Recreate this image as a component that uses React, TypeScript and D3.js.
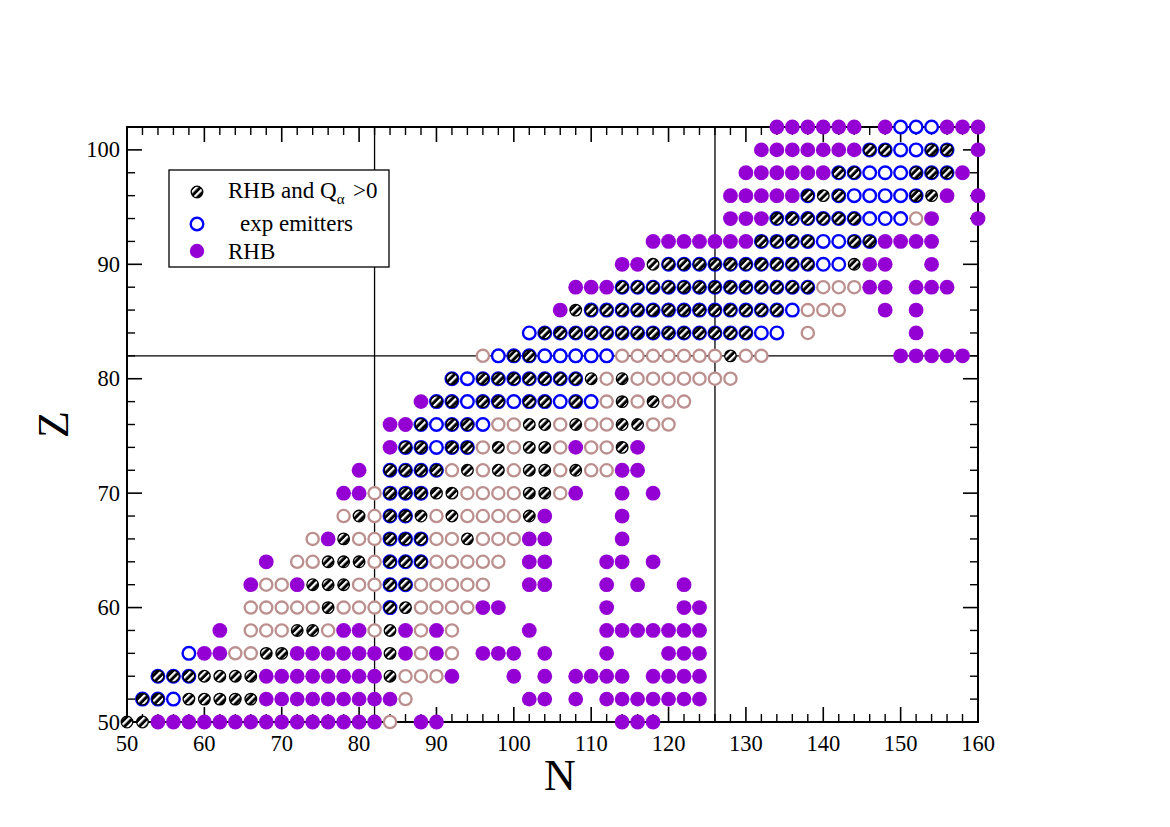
import React from 'react';
import * as d3 from 'd3';

type Row = [number, number[]];

// ---------- data (Z, list of N) ----------
// RHB (purple filled)
const rhbRows: Row[] = [
  [50, [54, 56, 58, 60, 62, 64, 66, 68, 70, 72, 74, 76, 78, 80, 82, 88, 90, 114, 116, 118]],
  [52, [68, 70, 72, 74, 76, 78, 80, 82, 84, 102, 104, 108, 112, 114, 116, 118, 120, 122, 124]],
  [54, [68, 70, 72, 74, 76, 78, 80, 82, 92, 100, 104, 108, 110, 112, 114, 118, 120, 122, 124]],
  [56, [60, 62, 72, 74, 76, 78, 80, 82, 86, 90, 96, 98, 100, 104, 112, 120, 122, 124]],
  [58, [62, 78, 80, 86, 90, 102, 112, 114, 116, 118, 120, 122, 124]],
  [60, [96, 98, 112, 122, 124]],
  [62, [66, 72, 102, 104, 112, 116, 122]],
  [64, [68, 102, 104, 112, 114, 118]],
  [66, [76, 102, 104, 114]],
  [68, [104, 114]],
  [70, [78, 80, 108, 114, 118]],
  [72, [80, 114, 116]],
  [74, [84, 108, 116]],
  [76, [84, 86]],
  [78, [88]],
  [82, [150, 152, 154, 156, 158]],
  [84, [152]],
  [86, [106, 148, 152]],
  [88, [108, 110, 112, 146, 148, 152, 154, 156]],
  [90, [114, 116, 146, 148, 154]],
  [92, [118, 120, 122, 124, 126, 128, 130, 148, 150, 152, 154]],
  [94, [128, 130, 132, 154, 160]],
  [96, [128, 130, 132, 134, 136, 156, 160]],
  [98, [130, 132, 134, 136, 138, 140, 158]],
  [100, [132, 134, 136, 138, 140, 142, 144, 160]],
  [102, [134, 136, 138, 140, 142, 144, 148, 156, 158, 160]],
];

// experimental alpha emitters (blue open circles)
const expRows: Row[] = [
  [52, [52, 54, 56]],
  [54, [54, 56, 58]],
  [56, [58]],
  [60, [84]],
  [62, [84, 86]],
  [64, [84, 86, 88]],
  [66, [84, 86, 88]],
  [68, [84, 86]],
  [70, [84, 86, 88]],
  [72, [84, 86, 88, 90]],
  [74, [86, 88, 90, 92, 94]],
  [76, [88, 90, 92, 94, 96]],
  [78, [90, 92, 94, 96, 98, 100, 102, 104, 106, 108, 110]],
  [80, [92, 94, 96, 98, 100, 102, 104, 106, 108]],
  [82, [98, 100, 102, 104, 106, 108, 110, 112]],
  [84, [102, 104, 106, 108, 110, 112, 114, 116, 118, 120, 122, 124, 126, 128, 130, 132, 134]],
  [86, [110, 112, 114, 116, 118, 120, 122, 124, 126, 128, 130, 132, 134, 136]],
  [88, [114, 116, 118, 120, 122, 124, 126, 128, 130, 132, 134, 136, 138]],
  [90, [120, 122, 124, 126, 128, 130, 132, 134, 136, 138, 140, 142]],
  [92, [132, 134, 136, 138, 140, 142, 144, 146]],
  [94, [134, 136, 138, 140, 142, 144, 146, 148, 150]],
  [96, [138, 142, 144, 146, 148, 150, 152]],
  [98, [142, 144, 146, 148, 150, 152, 154, 156]],
  [100, [146, 148, 150, 152, 154, 156]],
  [102, [150, 152, 154]],
];

// RHB and Q_alpha > 0 (hatched)
const qAlphaRows: Row[] = [
  [50, [50, 52]],
  [52, [52, 54, 58, 60, 62, 64, 66]],
  [54, [54, 56, 58, 60, 62, 64, 66, 84]],
  [56, [68, 70, 84]],
  [58, [72, 74, 84]],
  [60, [76, 84, 86]],
  [62, [74, 76, 78, 84, 86]],
  [64, [76, 78, 80, 84, 86, 88]],
  [66, [78, 84, 86, 88, 94]],
  [68, [80, 84, 86, 88, 92, 102]],
  [70, [84, 86, 88, 90, 92, 102, 104]],
  [72, [84, 86, 88, 90, 94, 98, 102, 104, 108]],
  [74, [86, 88, 92, 94, 98, 102, 104, 114]],
  [76, [88, 92, 94, 102, 104, 108, 114, 116]],
  [78, [90, 92, 96, 98, 102, 104, 108, 114, 118]],
  [80, [92, 96, 98, 100, 102, 104, 106, 108, 110, 114]],
  [82, [100, 102, 128]],
  [84, [104, 106, 108, 110, 112, 114, 116, 118, 120, 122, 124, 126, 128, 130]],
  [86, [108, 110, 112, 114, 116, 118, 120, 122, 124, 126, 128, 130, 132, 134]],
  [88, [114, 116, 118, 120, 122, 124, 126, 128, 130, 132, 134, 136, 138]],
  [90, [118, 120, 122, 124, 126, 128, 130, 132, 134, 136, 138, 144]],
  [92, [132, 134, 136, 138, 144, 146]],
  [94, [134, 136, 138, 140, 142, 144]],
  [96, [138, 140, 142, 152, 154]],
  [98, [142, 144, 152, 154, 156]],
  [100, [146, 148, 154, 156]],
];

// other calculated nuclei (rosy-brown open circles)
const otherRows: Row[] = [
  [50, [84]],
  [52, [86]],
  [54, [86, 88, 90]],
  [56, [64, 66, 88, 92]],
  [58, [66, 68, 70, 76, 82, 88, 92]],
  [60, [66, 68, 70, 72, 74, 78, 80, 82, 88, 90, 92, 94]],
  [62, [68, 70, 80, 82, 88, 90, 92, 94, 96]],
  [64, [72, 74, 82, 90, 92, 94, 96, 98]],
  [66, [74, 80, 82, 90, 92, 96, 98, 100]],
  [68, [78, 82, 90, 94, 96, 98, 100]],
  [70, [82, 94, 96, 98, 100, 106]],
  [72, [92, 96, 100, 106, 110, 112]],
  [74, [96, 100, 106, 110, 112]],
  [76, [98, 100, 106, 110, 112, 118, 120]],
  [78, [112, 116, 120, 122]],
  [80, [112, 116, 118, 120, 122, 124, 126, 128]],
  [82, [96, 114, 116, 118, 120, 122, 124, 126, 130, 132]],
  [84, [138]],
  [86, [138, 140, 142]],
  [88, [140, 142, 144]],
  [94, [152]],
];

const xMajor = [50, 60, 70, 80, 90, 100, 110, 120, 130, 140, 150, 160];
const yMajor = [50, 60, 70, 80, 90, 100];
const magicN = [82, 126];
const magicZ = [82];

const legendItems = [
  { kind: 'hatch', label: 'RHB and Q', sub: 'α', tail: '>0' },
  { kind: 'exp', label: 'exp emitters' },
  { kind: 'rhb', label: 'RHB' },
];

const flat = (rows: Row[]) => rows.flatMap(([z, ns]) => ns.map((n) => ({ n, z })));

export default function App() {
  const W = 1170;
  const H = 827;
  const L = 127, R = 978, T = 127, B = 722;
  const x = d3.scaleLinear().domain([50, 160]).range([L, R]);
  const y = d3.scaleLinear().domain([50, 102]).range([B, T]);
  const font = '"Liberation Serif", "Times New Roman", serif';
  const purple = '#9400d3';
  const blue = '#0000ff';
  const brown = '#bc8f8f';

  const xMinor = d3.range(50, 161, 2).filter((v) => !xMajor.includes(v));
  const yMinor = d3.range(50, 103, 2).filter((v) => !yMajor.includes(v));

  const hatch = (cx: number, cy: number, key: string) => (
    <circle key={key} cx={cx} cy={cy} r={5.8} fill="url(#hatchPat)" stroke="#000" strokeWidth={1.3} />
  );

  return (
    <svg width={W} height={H} style={{ position: 'absolute', left: 0, top: 0, background: '#fff' }}>
      <defs>
        <pattern id="hatchPat" width={5.2} height={5.2} patternUnits="userSpaceOnUse" patternTransform="rotate(45)">
          <rect width={5.2} height={5.2} fill="#000" />
          <rect width={2.2} height={5.2} fill="#fff" />
        </pattern>
      </defs>
      <rect x={0} y={0} width={W} height={H} fill="#fff" />

      {/* reference lines */}
      {magicN.map((n) => (
        <line key={'mn' + n} x1={x(n)} x2={x(n)} y1={T} y2={B} stroke="#000" strokeWidth={1.3} />
      ))}
      {magicZ.map((z) => (
        <line key={'mz' + z} x1={L} x2={R} y1={y(z)} y2={y(z)} stroke="#000" strokeWidth={1.3} />
      ))}

      {/* frame */}
      <rect x={L} y={T} width={R - L} height={B - T} fill="none" stroke="#000" strokeWidth={2} />

      {/* ticks */}
      {xMajor.map((v) => (
        <g key={'xM' + v}>
          <line x1={x(v)} x2={x(v)} y1={B} y2={B - 15} stroke="#000" strokeWidth={1.6} />
          <line x1={x(v)} x2={x(v)} y1={T} y2={T + 15} stroke="#000" strokeWidth={1.6} />
          <text x={x(v)} y={751} textAnchor="middle" fontFamily={font} fontSize={22.5}>{v}</text>
        </g>
      ))}
      {xMinor.map((v) => (
        <g key={'xm' + v}>
          <line x1={x(v)} x2={x(v)} y1={B} y2={B - 8} stroke="#000" strokeWidth={1.4} />
          <line x1={x(v)} x2={x(v)} y1={T} y2={T + 8} stroke="#000" strokeWidth={1.4} />
        </g>
      ))}
      {yMajor.map((v) => (
        <g key={'yM' + v}>
          <line x1={L} x2={L + 15} y1={y(v)} y2={y(v)} stroke="#000" strokeWidth={1.6} />
          <line x1={R} x2={R - 15} y1={y(v)} y2={y(v)} stroke="#000" strokeWidth={1.6} />
          <text x={120} y={y(v) + 7.5} textAnchor="end" fontFamily={font} fontSize={22.5}>{v}</text>
        </g>
      ))}
      {yMinor.map((v) => (
        <g key={'ym' + v}>
          <line x1={L} x2={L + 8} y1={y(v)} y2={y(v)} stroke="#000" strokeWidth={1.4} />
          <line x1={R} x2={R - 8} y1={y(v)} y2={y(v)} stroke="#000" strokeWidth={1.4} />
        </g>
      ))}

      {/* data layers */}
      {flat(otherRows).map((d, i) => (
        <circle key={'o' + i} cx={x(d.n)} cy={y(d.z)} r={6.1} fill="#fff" stroke={brown} strokeWidth={2.3} />
      ))}
      {flat(rhbRows).map((d, i) => (
        <circle key={'p' + i} cx={x(d.n)} cy={y(d.z)} r={7.4} fill={purple} />
      ))}
      {flat(expRows).map((d, i) => (
        <circle key={'e' + i} cx={x(d.n)} cy={y(d.z)} r={6.3} fill="#fff" stroke={blue} strokeWidth={2.4} />
      ))}
      {flat(qAlphaRows).map((d, i) => hatch(x(d.n), y(d.z), 'h' + i))}

      {/* legend */}
      <rect x={169} y={170} width={220} height={97} fill="#fff" stroke="#000" strokeWidth={1.3} />
      {hatch(197, 192, 'lg1')}
      <circle cx={197} cy={224} r={6.3} fill="#fff" stroke={blue} strokeWidth={2.4} />
      <circle cx={197} cy={251} r={7.2} fill={purple} />
      <text x={228} y={198} fontFamily={font} fontSize={23}>
        {legendItems[0].label}
        <tspan dy={6} fontSize={15}>{legendItems[0].sub}</tspan>
        <tspan x={353} dy={-6} fontSize={23}>{legendItems[0].tail}</tspan>
      </text>
      <text x={240} y={231} fontFamily={font} fontSize={23}>{legendItems[1].label}</text>
      <text x={228} y={259} fontFamily={font} fontSize={23}>{legendItems[2].label}</text>

      {/* axis titles */}
      <text x={560} y={790} textAnchor="middle" fontFamily={font} fontSize={44}>N</text>
      <text transform={`translate(68, ${(T + B) / 2}) rotate(-90)`} textAnchor="middle" fontFamily={font} fontSize={44}>Z</text>
    </svg>
  );
}
